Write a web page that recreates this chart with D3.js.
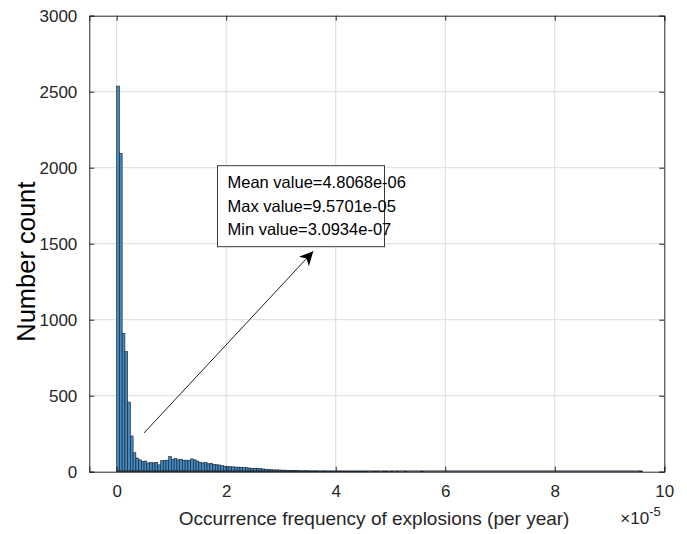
<!DOCTYPE html>
<html>
<head>
<meta charset="utf-8">
<script src="https://cdn.jsdelivr.net/npm/d3@7"></script>
<style>
  body { margin: 0; background: #fff; }
  svg { font-family: "Liberation Sans", Arial, Helvetica, sans-serif; }
</style>
</head>
<body>
<svg id="chart" width="687" height="534"></svg>
<script>
// histogram bins: width 0.05 (x 1e-5), starting at 0
const binWidth = 0.05;
const countsHead = [
  2537, 2094, 909, 790, 458, 235, 125, 90, 78, 66,
  70, 57, 60, 58, 61, 45, 72, 74, 76, 100,
  82, 86, 78, 82, 75, 76, 74, 84, 78, 70,
  62, 58, 60, 52, 55, 48, 46, 44, 40, 36,
  34, 33, 32, 30, 30, 29, 28, 26, 24, 22,
  22, 21, 20, 18, 16, 14, 13, 12, 12, 11,
  10, 10, 9, 8, 7, 8, 6, 5, 5, 6,
  4, 4, 5, 3, 3, 4, 2, 3, 2, 2,
  3, 2, 1, 2, 2, 1, 2, 1, 1, 2
];
const countsTail = [
  1, 1, 0, 2, 1, 1, 0, 1, 1, 0,
  1, 0, 1, 0, 0, 1, 0, 0, 0, 0,
  0, 1, 0, 0, 0, 0, 0, 0, 0, 0,
  0, 0, 0, 0, 0, 0, 0, 0, 0, 0,
  0, 0, 0, 0, 0, 0, 0, 0, 0, 0,
  0, 0, 0, 0, 0, 0, 0, 0, 0, 0,
  0, 0, 0, 0, 0, 0, 0, 0, 0, 0,
  0, 0, 0, 0, 0, 0, 0, 0, 0, 0,
  0, 0, 0, 0, 0, 0, 0, 0, 0, 0,
  0, 0, 0, 0, 0, 0, 0, 0, 0, 0,
  0, 1
];
const counts = countsHead.concat(countsTail);

const xTicks = [0, 2, 4, 6, 8, 10];
const yTicks = [0, 500, 1000, 1500, 2000, 2500, 3000];
const xDomain = [-0.5, 10];
const yDomain = [0, 3000];

const statLines = [
  "Mean value=4.8068e-06",
  "Max value=9.5701e-05",
  "Min value=3.0934e-07"
];
// arrow from / to in data units (x 1e-5, count)
const arrowFrom = [0.5, 255];
const arrowTo = [3.59, 1450];

// Layout
const margin = { top: 15.7, right: 22.7, bottom: 62.3, left: 89.3 };
const width = 687 - margin.left - margin.right;
const height = 534 - margin.top - margin.bottom;
const axisColor = "#262626";

const svg = d3.select("#chart");
const g = svg.append("g")
    .attr("transform", `translate(${margin.left},${margin.top})`);

const x = d3.scaleLinear().domain(xDomain).range([0, width]);
const y = d3.scaleLinear().domain(yDomain).range([height, 0]);

// grid
g.append("g").selectAll("line.gx")
  .data(xTicks.filter(t => t > xDomain[0] && t < xDomain[1]))
  .join("line")
    .attr("x1", d => x(d)).attr("x2", d => x(d))
    .attr("y1", 0).attr("y2", height)
    .attr("stroke", "#dcdcdc").attr("stroke-width", 1);

g.append("g").selectAll("line.gy")
  .data(yTicks.filter(t => t > yDomain[0] && t < yDomain[1]))
  .join("line")
    .attr("x1", 0).attr("x2", width)
    .attr("y1", d => y(d)).attr("y2", d => y(d))
    .attr("stroke", "#dcdcdc").attr("stroke-width", 1);

// bars
g.append("g").selectAll("rect")
  .data(counts)
  .join("rect")
    .attr("x", (d, i) => x(i * binWidth))
    .attr("width", x(binWidth) - x(0))
    .attr("y", d => y(d))
    .attr("height", d => y(0) - y(d))
    .attr("fill", "#4289c2")
    .attr("stroke", "#1c2630")
    .attr("stroke-width", 0.65);

// zero-height bins still show their edge along the baseline
g.append("line")
    .attr("x1", x(0)).attr("x2", x(counts.length * binWidth))
    .attr("y1", y(0) - 0.5).attr("y2", y(0) - 0.5)
    .attr("stroke", "#1c2630").attr("stroke-width", 1.2);

// axes (ticks point inward, mirrored on top/right)
const tickLen = 5;
const xAxis = d3.axisBottom(x).tickValues(xTicks).tickSize(-tickLen).tickPadding(13).tickFormat(d3.format("d"));
const yAxis = d3.axisLeft(y).tickValues(yTicks).tickSize(-tickLen).tickPadding(12).tickFormat(d3.format("d"));

const gx = g.append("g").attr("transform", `translate(0,${height})`).call(xAxis);
const gy = g.append("g").call(yAxis);
const gxTop = g.append("g").call(d3.axisTop(x).tickValues(xTicks).tickSize(-tickLen).tickFormat(""));
const gyRight = g.append("g").attr("transform", `translate(${width},0)`)
    .call(d3.axisRight(y).tickValues(yTicks).tickSize(-tickLen).tickFormat(""));

[gx, gy, gxTop, gyRight].forEach(a => {
  a.select(".domain").attr("stroke", axisColor).attr("stroke-width", 1);
  a.selectAll(".tick line").attr("stroke", axisColor);
  a.selectAll(".tick text")
    .attr("fill", axisColor)
    .style("font-size", "17px")
    .style("font-family", "'Liberation Sans', Arial, sans-serif");
});

// exponent label
const expo = g.append("text")
    .attr("x", width - 44)
    .attr("y", height + 52)
    .attr("fill", axisColor)
    .style("font-size", "17px");
expo.append("tspan").text("\u00d710");
expo.append("tspan").attr("dy", -8).style("font-size", "13px").text("-5");

// axis labels
g.append("text")
    .attr("x", x(4.7))
    .attr("y", height + 53)
    .attr("text-anchor", "middle")
    .attr("fill", axisColor)
    .style("font-size", "19px")
    .text("Occurrence frequency of explosions (per year)");

svg.append("text")
    .attr("transform", `translate(35,${margin.top + height / 2 + 18}) rotate(-90)`)
    .attr("text-anchor", "middle")
    .attr("fill", "#000")
    .style("font-size", "25.5px")
    .text("Number count");

// arrow
svg.append("defs").append("marker")
    .attr("id", "head")
    .attr("viewBox", "0 0 10 10")
    .attr("refX", 10).attr("refY", 5)
    .attr("markerWidth", 14).attr("markerHeight", 14)
    .attr("markerUnits", "userSpaceOnUse")
    .attr("orient", "auto")
  .append("path")
    .attr("d", "M0,0 L10,5 L0,10 L3,5 Z")
    .attr("fill", "#000");

g.append("line")
    .attr("x1", x(arrowFrom[0])).attr("y1", y(arrowFrom[1]))
    .attr("x2", x(arrowTo[0])).attr("y2", y(arrowTo[1]))
    .attr("stroke", "#222").attr("stroke-width", 1)
    .attr("marker-end", "url(#head)");

// annotation box
const box = svg.append("g").attr("transform", "translate(217.5,165.7)");
box.append("rect")
    .attr("width", 167).attr("height", 81)
    .attr("fill", "#fff")
    .attr("stroke", "#3a3a3a").attr("stroke-width", 1);
box.selectAll("text")
  .data(statLines)
  .join("text")
    .attr("x", 10)
    .attr("y", (d, i) => 22.6 + i * 23.4)
    .attr("fill", "#000")
    .style("font-size", "16.5px")
    .text(d => d);
</script>
</body>
</html>
